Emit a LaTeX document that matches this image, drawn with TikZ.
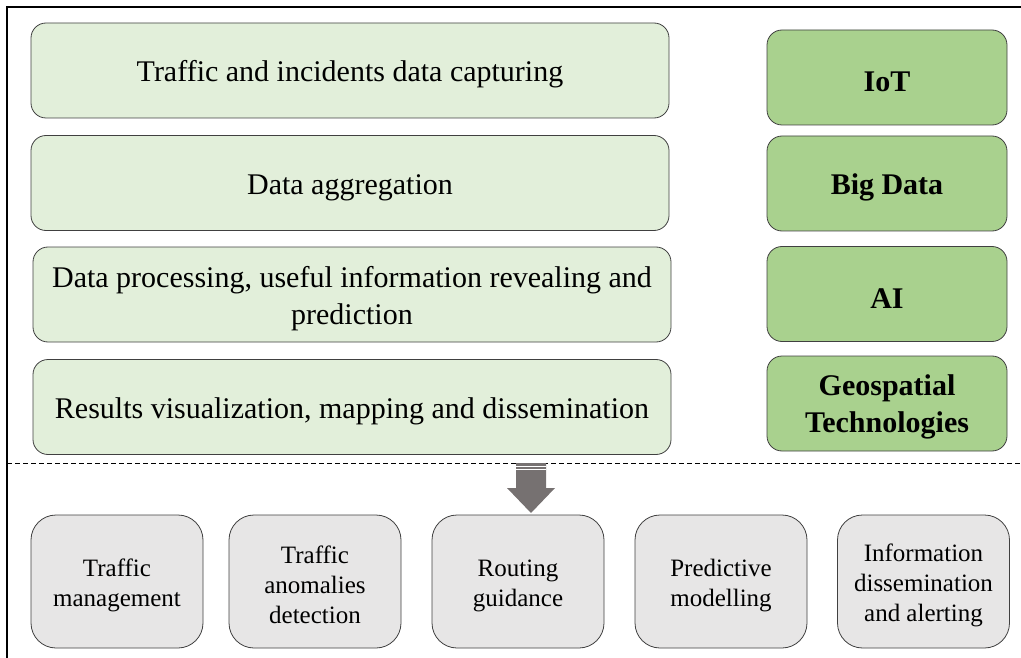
\documentclass[tikz,border=0pt]{standalone}
\usepackage{fontspec}
\setmainfont{Liberation Serif}
\usetikzlibrary{positioning}
\definecolor{stepgreen}{HTML}{E2EFDA}
\definecolor{techgreen}{HTML}{A9D18E}
\definecolor{appgray}{HTML}{E7E6E6}
\definecolor{arrowgray}{HTML}{767171}
\definecolor{edgegray}{HTML}{404040}
\tikzset{stepbox/.style={draw=edgegray,thick,fill=stepgreen,rounded corners=15pt,
    minimum width=638pt,minimum height=95pt,align=flush center,inner sep=2pt,
    text width=620pt,font=\fontsize{30}{37}\selectfont,
    execute at begin node={\rule{0pt}{0.95em}}}}
\tikzset{techbox/.style={draw=edgegray,thick,fill=techgreen,rounded corners=15pt,
    minimum width=240pt,minimum height=95pt,align=flush center,inner sep=2pt,
    text width=230pt,font=\fontsize{30}{37}\selectfont\bfseries,
    execute at begin node={\rule{0pt}{0.95em}}}}
\tikzset{appbox/.style={draw=edgegray,thick,fill=appgray,rounded corners=25pt,
    minimum width=172pt,minimum height=133pt,align=flush center,inner sep=2pt,
    text width=165pt,font=\fontsize{25}{30}\selectfont,
    execute at begin node={\rule{0pt}{1em}}}}

\begin{document}
\begin{tikzpicture}[x=1pt,y=-1pt]
          \useasboundingbox (0,0) rectangle (1021,658);

          % Cadre
          \draw [line width=1.5pt] (1021,7) -- (7,7) -- (7,658);

          % Etapes
          \node [stepbox] (capture) at (350,70.5) {Traffic and incidents data capturing};
          \node [stepbox] (aggreg) at (350,183) {Data aggregation};
          \node [stepbox] (process) at (352,294.5) {Data processing, useful information revealing and\\prediction};
          \node [stepbox] (visual) at (352,407) {Results visualization, mapping and dissemination};

          % Technologies
          \node [techbox] (iot) at (887,77.5) {IoT};
          \node [techbox] (bigdata) at (887,183.5) {Big Data};
          \node [techbox] (ai) at (887,294) {AI};
          \node [techbox] (geo) at (887,403.5) {Geospatial\\Technologies};

          % Separation
          \coordinate (sepL) at (7,463);
          \coordinate (sepR) at (1021,463);
          \draw [dash pattern=on 5pt off 3pt] (sepL) -- (sepR);

          % Applications
          \node [appbox] (manage) at (117,581.5) {Traffic\\management};
          \node [appbox] (anomaly) at (315,581.5) {Traffic\\anomalies\\detection};
          \node [appbox] (routing) at (518,581.5) {Routing\\guidance};
          \node [appbox] (predict) at (721,581.5) {Predictive\\modelling};
          \node [appbox] (inform) at (923.5,581.5) {Information\\dissemination\\and alerting};

          % Fleche
          \coordinate (arrtop) at (531,463);
          \fill [arrowgray] (arrtop) ++(-15,0) -- ++(0,25) -- ++(-9,0) -- ++(24,25)
                -- ++(24,-25) -- ++(-9,0) -- ++(0,-25) -- cycle;
          \draw [white,line width=1pt] (516,466) -- (546,466);
          \draw [white,line width=1pt] (516,469.5) -- (546,469.5);
\end{tikzpicture}
\end{document}
